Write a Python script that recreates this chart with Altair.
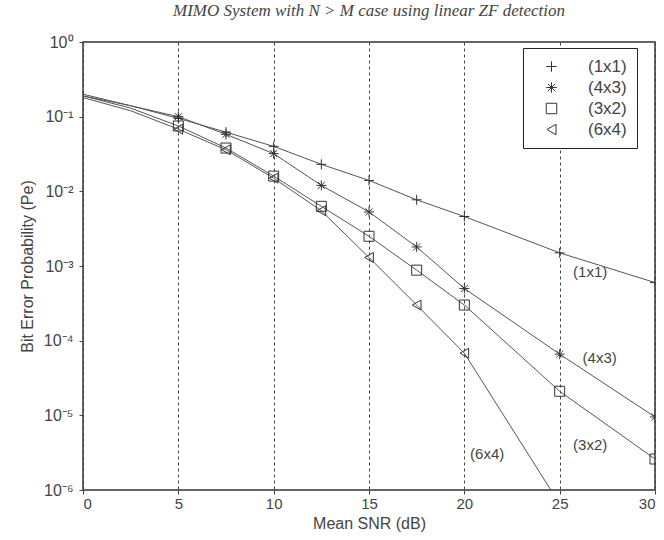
import altair as alt
import pandas as pd

snr = [0, 2.5, 5, 7.5, 10, 12.5, 15, 17.5, 20, 25, 30]
ber_1x1 = [0.20, 0.14, 0.095, 0.062, 0.040, 0.023, 0.014, 0.0077, 0.0046, 0.0015, 0.0006]
ber_4x3 = [0.19, 0.14, 0.10, 0.058, 0.032, 0.012, 0.0053, 0.0018, 0.0005, 6.6e-5, 9.5e-6]
ber_3x2 = [0.19, 0.13, 0.075, 0.038, 0.016, 0.0063, 0.0025, 0.00088, 0.0003, 2.1e-5, 2.6e-6]
ber_6x4 = [0.18, 0.12, 0.068, 0.036, 0.015, 0.0055, 0.0013, 0.0003, 6.8e-5, 6.5e-7]
series = ["(1x1)", "(4x3)", "(3x2)", "(6x4)"]
series_values = [ber_1x1, ber_4x3, ber_3x2, ber_6x4]

x_ticks = [0, 5, 10, 15, 20, 25, 30]
y_ticks = [1, 1e-1, 1e-2, 1e-3, 1e-4, 1e-5, 1e-6]
y_tick_labels = ["10⁰", "10⁻¹", "10⁻²", "10⁻³", "10⁻⁴", "10⁻⁵", "10⁻⁶"]

annot_label = ["(1x1)", "(4x3)", "(3x2)", "(6x4)"]
annot_x = [26.6, 27.1, 26.6, 21.2]
annot_y = [8.3e-4, 5.9e-5, 4.0e-6, 3.0e-6]

shapes = [
    "M-1,0L1,0M0,-1L0,1",
    "M-1,0L1,0M0,-1L0,1M-0.7,-0.7L0.7,0.7M-0.7,0.7L0.7,-0.7",
    "square",
    "triangle-left",
]

rows = []
for name, vals in zip(series, series_values):
    for s, v in zip(snr, vals):
        rows.append({"snr": s, "ber": v, "sys": name})
df = pd.DataFrame(rows)
df_annot = pd.DataFrame({"x": annot_x, "y": annot_y, "label": annot_label})

parts = []
for v, lab in zip(y_ticks, y_tick_labels):
    parts.append(f"datum.value >= {v * 0.5} ? '{lab}'")
label_expr = " : ".join(parts) + " : ''"

FONT = "Liberation Sans"
GREY = "#444"

x_enc = alt.X(
    "snr:Q",
    scale=alt.Scale(domain=[0, 30], nice=False),
    axis=alt.Axis(
        values=x_ticks, grid=True, gridDash=[3, 3], gridColor="#444", gridOpacity=1,
        gridWidth=1, title="Mean SNR (dB)", labelFont=FONT, labelFontSize=15,
        labelColor=GREY, titleFont=FONT, titleFontSize=16,
        titleFontWeight="normal", titleColor=GREY, tickSize=4, tickColor=GREY,
        domain=False, labelPadding=2, titlePadding=4,
    ),
)
y_enc = alt.Y(
    "ber:Q",
    scale=alt.Scale(type="log", domain=[1e-6, 1], nice=False),
    axis=alt.Axis(
        values=y_ticks, labelExpr=label_expr, grid=False,
        title="Bit Error Probability (Pe)", labelFont=FONT, labelFontSize=16,
        labelColor=GREY, titleFont=FONT, titleFontSize=16,
        titleFontWeight="normal", titleColor=GREY, tickSize=4, tickColor=GREY,
        domain=False, labelPadding=6, titlePadding=8,
    ),
)

lines = alt.Chart(df).mark_line(clip=True, color="#555", strokeWidth=1).encode(
    x=x_enc, y=y_enc, detail="sys:N"
)

points = alt.Chart(df).transform_filter("datum.snr >= 5").mark_point(
    clip=True, filled=False, color="#333", strokeWidth=1, opacity=1
).encode(
    x="snr:Q",
    y="ber:Q",
    shape=alt.Shape(
        "sys:N",
        scale=alt.Scale(domain=series, range=shapes),
        legend=alt.Legend(
            title=None, orient="none", legendX=440, legendY=6,
            strokeColor="#222", fillColor="white", padding=10,
            labelFont=FONT, labelFontSize=17, labelColor=GREY,
            symbolSize=110, symbolStrokeColor="#333", symbolStrokeWidth=1,
            rowPadding=3, labelOffset=28, symbolOffset=10,
        ),
    ),
    size=alt.value(100),
)

texts = alt.Chart(df_annot).mark_text(
    font=FONT, fontSize=15, color=GREY
).encode(x="x:Q", y="y:Q", text="label:N")

chart = alt.layer(lines, points, texts).properties(
    width=572,
    height=448,
    autosize=alt.AutoSizeParams(type="none"),
    padding={"left": 83, "top": 42, "right": 9, "bottom": 50},
    title=alt.TitleParams(
        "MIMO System with N > M case using linear ZF detection",
        font="Liberation Serif", fontStyle="italic", fontSize=17,
        fontWeight="normal", color=GREY, anchor="middle", offset=14,
    ),
).configure_view(stroke="#333", strokeWidth=1.5)

chart.save("out.html", embed_options={"renderer": "svg", "actions": False})
